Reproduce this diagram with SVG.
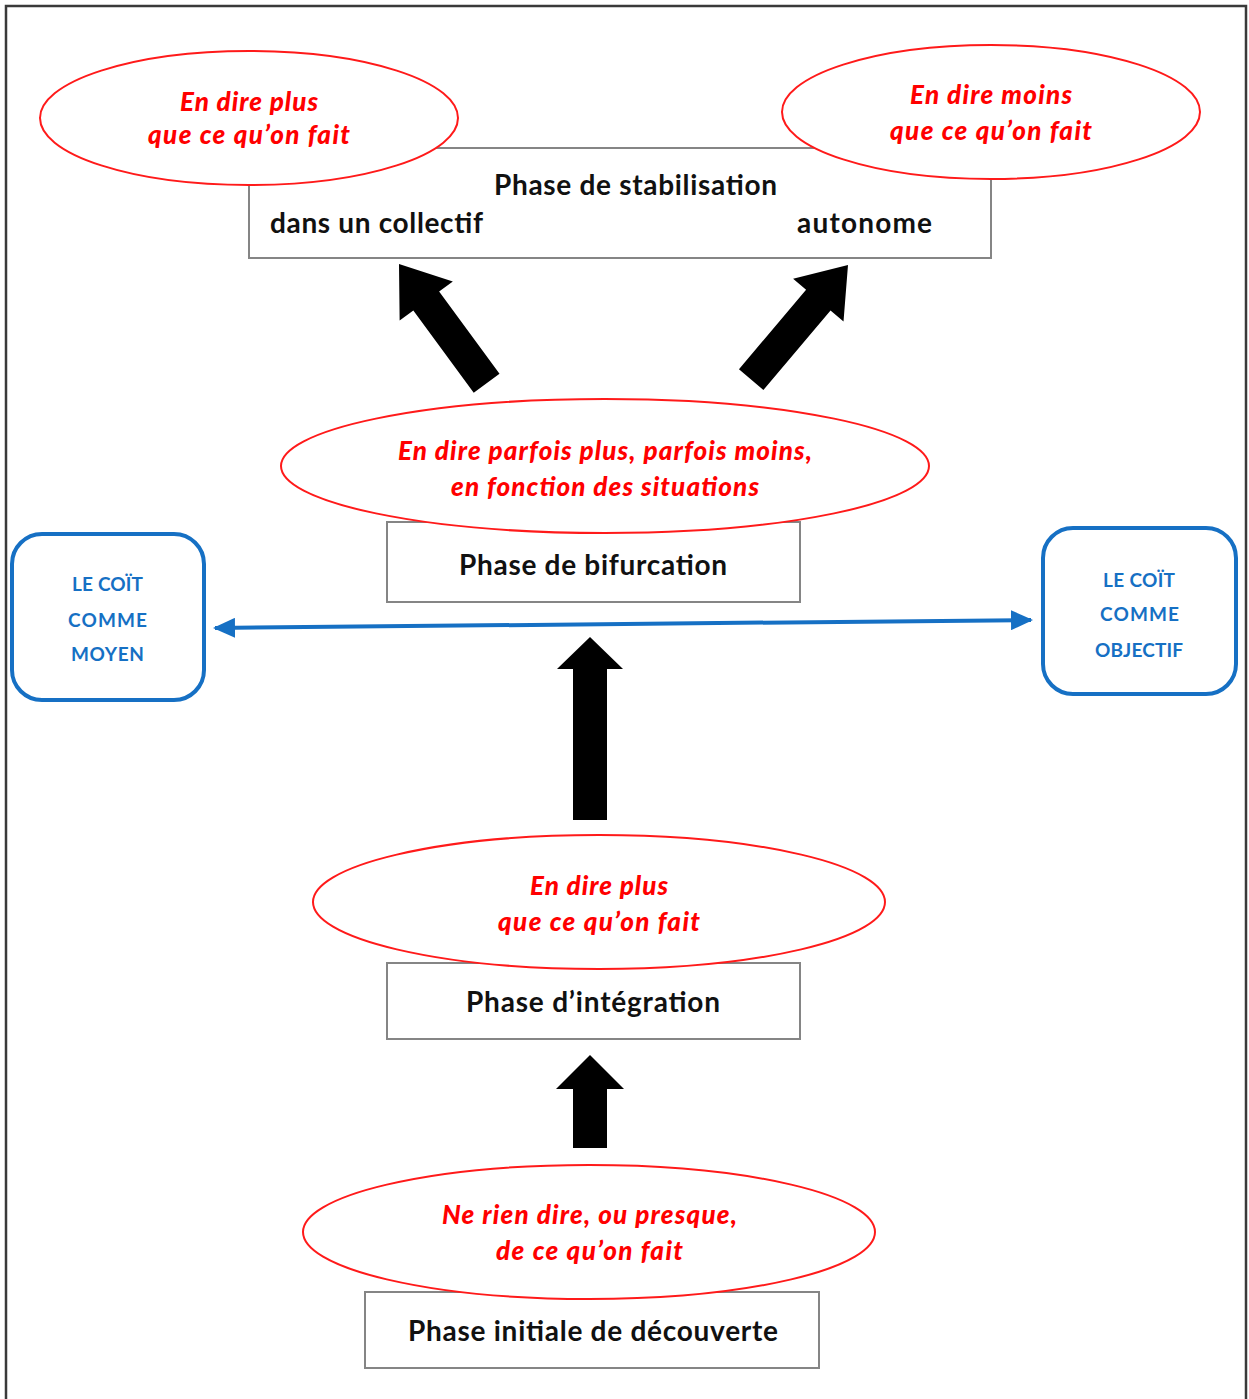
<svg xmlns="http://www.w3.org/2000/svg" width="1249" height="1399" viewBox="0 0 1249 1399">
<defs>
<style>
.frame{fill:none;stroke:#3a3a3a;stroke-width:2.5}
.box{fill:#fff;stroke:#858585;stroke-width:2}
.ell{fill:#fff;stroke:#ff1a1a;stroke-width:2}
.blue{fill:#fff;stroke:#1670c4;stroke-width:4}
.rt{font-family:Lato,"Liberation Sans",sans-serif;font-weight:900;font-style:italic;font-size:26px;fill:#ff0000;text-anchor:middle}
.bt{font-family:Lato,"Liberation Sans",sans-serif;font-weight:bold;font-size:28px;fill:#111;text-anchor:middle}
.ct{font-family:Lato,"Liberation Sans",sans-serif;font-weight:bold;font-size:19px;fill:#1670c4;text-anchor:middle}
.arr{fill:#000}
</style>
<marker id="bh" viewBox="0 0 22 20" refX="20" refY="10" markerWidth="22" markerHeight="20" markerUnits="userSpaceOnUse" orient="auto-start-reverse">
<path d="M0,0 L22,10 L0,20 Z" fill="#1670c4"/>
</marker>
</defs>
<rect width="1249" height="1399" fill="#fff"/>
<path class="frame" d="M6,1410 V6 H1246 V1410"/>

<g id="connectors">
<polygon class="arr" transform="translate(399,264) rotate(-36.3)" points="0,0 33,46 16,46 16,148 -16,148 -16,46 -33,46"/>
<polygon class="arr" transform="translate(848,265) rotate(40.2)" points="0,0 33,46 16,46 16,150 -16,150 -16,46 -33,46"/>
<polygon class="arr" points="590,637 623,669 607,669 607,820 573,820 573,669 557,669"/>
<polygon class="arr" points="590,1055 624,1089 607,1089 607,1148 573,1148 573,1089 556,1089"/>
<line x1="215" y1="628" x2="1031" y2="620" stroke="#1670c4" stroke-width="4" marker-start="url(#bh)" marker-end="url(#bh)"/>
</g>

<g id="stabilisation">
<rect class="box" x="249" y="148" width="742" height="110"/>
<text class="bt" x="635.5" y="195" textLength="283">Phase de stabilisation</text>
<text class="bt" x="376.5" y="233" textLength="213">dans un collectif</text>
<text class="bt" x="864.5" y="233" textLength="135">autonome</text>
</g>
<g id="ell-plus-top">
<ellipse class="ell" cx="249" cy="118" rx="209" ry="67"/>
<text class="rt" x="249" y="111" textLength="138">En dire plus</text>
<text class="rt" x="249" y="144" textLength="202">que ce qu’on fait</text>
</g>
<g id="ell-moins-top">
<ellipse class="ell" cx="991" cy="112" rx="209" ry="67"/>
<text class="rt" x="991" y="104" textLength="162">En dire moins</text>
<text class="rt" x="991" y="140" textLength="202">que ce qu’on fait</text>
</g>

<g id="bifurcation">
<rect class="box" x="387" y="522" width="413" height="80"/>
<text class="bt" x="593" y="575" textLength="268">Phase de bifurcation</text>
</g>
<g id="ell-parfois">
<ellipse class="ell" cx="605" cy="466" rx="324" ry="67"/>
<text class="rt" x="605" y="460" textLength="414">En dire parfois plus, parfois moins,</text>
<text class="rt" x="605" y="496" textLength="308">en fonction des situations</text>
</g>

<g id="moyen">
<rect class="blue" x="12" y="534" width="192" height="166" rx="30"/>
<text class="ct" x="107.5" y="591" textLength="71">LE COÏT</text>
<text class="ct" x="107.5" y="627" textLength="79">COMME</text>
<text class="ct" x="107.5" y="661" textLength="73">MOYEN</text>
</g>
<g id="objectif">
<rect class="blue" x="1043" y="528" width="193" height="166" rx="30"/>
<text class="ct" x="1139" y="587" textLength="72">LE COÏT</text>
<text class="ct" x="1139.5" y="621" textLength="79">COMME</text>
<text class="ct" x="1139" y="657" textLength="88">OBJECTIF</text>
</g>

<g id="integration">
<rect class="box" x="387" y="963" width="413" height="76"/>
<text class="bt" x="593" y="1012" textLength="254">Phase d’intégration</text>
</g>
<g id="ell-plus-mid">
<ellipse class="ell" cx="599" cy="902" rx="286" ry="67"/>
<text class="rt" x="599" y="895" textLength="138">En dire plus</text>
<text class="rt" x="599" y="931" textLength="202">que ce qu’on fait</text>
</g>

<g id="decouverte">
<rect class="box" x="365" y="1292" width="454" height="76"/>
<text class="bt" x="593" y="1341" textLength="370">Phase initiale de découverte</text>
</g>
<g id="ell-rien">
<ellipse class="ell" cx="589" cy="1232" rx="286" ry="67"/>
<text class="rt" x="589.5" y="1224" textLength="295">Ne rien dire, ou presque,</text>
<text class="rt" x="589.5" y="1260" textLength="187">de ce qu’on fait</text>
</g>
</svg>
